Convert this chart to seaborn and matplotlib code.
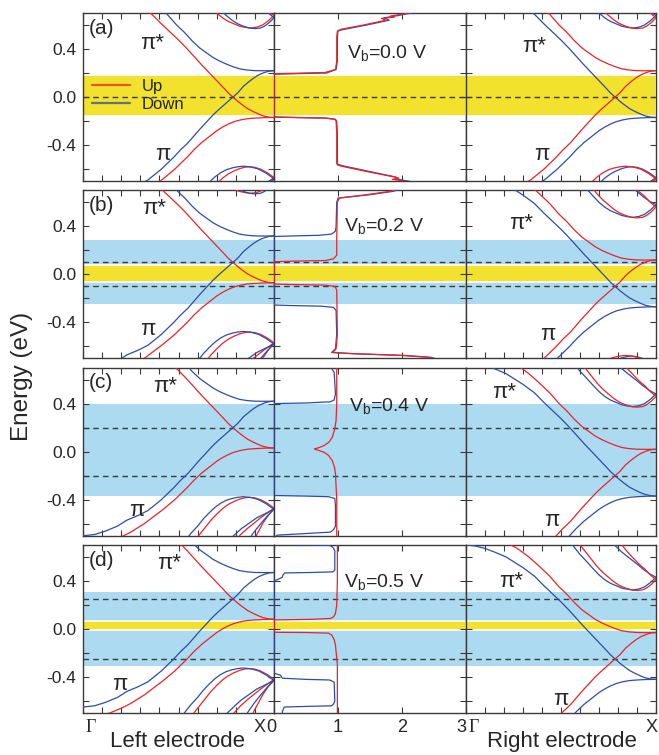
import matplotlib
matplotlib.use("Agg")
import matplotlib.pyplot as plt
from matplotlib.lines import Line2D
from matplotlib.ticker import MultipleLocator, FormatStrFormatter
import seaborn as sns

# ---------------- band structure of the left electrode at zero bias ----------------
# k runs from Gamma (0) to X (1); spin up = red, spin down = blue
K_PI_STAR_UP = [0.0, 0.05, 0.1, 0.15, 0.21, 0.26, 0.3, 0.36, 0.41, 0.45, 0.5, 0.54, 0.58, 0.62, 0.65, 0.68,
                0.71, 0.74, 0.76, 0.785, 0.81, 0.83, 0.86, 0.89, 0.92, 0.94, 0.97, 1.0]
E_PI_STAR_UP = [0.95, 0.94, 0.92, 0.89, 0.85, 0.8, 0.76, 0.69, 0.61, 0.55, 0.475, 0.41, 0.34, 0.27, 0.22, 0.17,
                0.12, 0.07, 0.035, 0.0, -0.035, -0.06, -0.095, -0.12, -0.142, -0.155, -0.166, -0.17]
K_PI_UP = [0.0, 0.07, 0.14, 0.2, 0.25, 0.32, 0.37, 0.42, 0.48, 0.545, 0.58, 0.62, 0.66, 0.70, 0.73, 0.76,
           0.79, 0.825, 0.86, 0.9, 0.95, 1.0]
E_PI_UP = [-0.98, -0.975, -0.95, -0.91, -0.87, -0.8, -0.74, -0.68, -0.6, -0.5, -0.44, -0.38, -0.33, -0.28,
           -0.25, -0.225, -0.205, -0.19, -0.18, -0.175, -0.171, -0.17]
K_PI_STAR_DN = [0.0, 0.05, 0.1, 0.15, 0.21, 0.27, 0.33, 0.38, 0.44, 0.49, 0.53, 0.57, 0.61, 0.645, 0.68,
                0.715, 0.75, 0.785, 0.82, 0.86, 0.9, 0.95, 1.0]
E_PI_STAR_DN = [1.05, 1.04, 1.02, 1.0, 0.97, 0.92, 0.85, 0.78, 0.69, 0.6, 0.54, 0.47, 0.41, 0.37, 0.33,
                0.3, 0.275, 0.253, 0.235, 0.225, 0.22, 0.219, 0.22]
K_PI_DN = [0.0, 0.06, 0.12, 0.18, 0.23, 0.29, 0.34, 0.41, 0.475, 0.51, 0.55, 0.58, 0.61, 0.645, 0.68, 0.71,
           0.735, 0.76, 0.785, 0.81, 0.84, 0.87, 0.895, 0.92, 0.95, 0.975, 1.0]
E_PI_DN = [-0.9, -0.89, -0.86, -0.82, -0.77, -0.73, -0.69, -0.6, -0.5, -0.44, -0.38, -0.325, -0.27, -0.21,
           -0.15, -0.105, -0.07, -0.035, 0.0, 0.035, 0.09, 0.13, 0.16, 0.185, 0.205, 0.216, 0.22]

# higher bands near X
K_UHUMP_UP = [0.56, 0.6, 0.63, 0.67, 0.7, 0.73, 0.76, 0.79, 0.82, 0.85, 0.88, 0.91, 0.94, 0.97, 1.0]
E_UHUMP_UP = [0.95, 0.87, 0.82, 0.75, 0.7, 0.66, 0.63, 0.61, 0.59, 0.58, 0.575, 0.582, 0.6, 0.635, 0.68]
K_UHUMP_DN = [0.6, 0.63, 0.66, 0.69, 0.72, 0.75, 0.78, 0.81, 0.84, 0.87, 0.9, 0.93, 0.95, 0.975, 1.0]
E_UHUMP_DN = [0.95, 0.89, 0.83, 0.77, 0.72, 0.68, 0.64, 0.61, 0.59, 0.575, 0.57, 0.575, 0.59, 0.62, 0.66]
K_ULINE_UP = [0.78, 0.82, 0.86, 0.9, 0.93, 0.965, 1.0]
E_ULINE_UP = [0.95, 0.89, 0.84, 0.79, 0.75, 0.71, 0.68]
K_ULINE_DN = [0.82, 0.85, 0.88, 0.91, 0.94, 0.97, 1.0]
E_ULINE_DN = [0.95, 0.89, 0.84, 0.79, 0.75, 0.7, 0.66]
K_LHUMP_UP = [0.58, 0.61, 0.64, 0.67, 0.7, 0.73, 0.76, 0.79, 0.82, 0.85, 0.87, 0.9, 0.93, 0.965, 1.0]
E_LHUMP_UP = [-0.95, -0.89, -0.83, -0.77, -0.72, -0.675, -0.64, -0.615, -0.595, -0.583, -0.58, -0.585, -0.6, -0.63, -0.67]
K_LHUMP_DN = [0.53, 0.565, 0.6, 0.63, 0.66, 0.69, 0.72, 0.75, 0.78, 0.81, 0.84, 0.88, 0.92, 0.96, 1.0]
E_LHUMP_DN = [-0.95, -0.88, -0.82, -0.76, -0.71, -0.665, -0.63, -0.605, -0.59, -0.58, -0.575, -0.582, -0.6, -0.635, -0.68]
K_LLINE1_UP = [0.79, 0.825, 0.86, 0.895, 0.93, 0.965, 1.0]
E_LLINE1_UP = [-0.95, -0.89, -0.84, -0.795, -0.75, -0.71, -0.67]
K_LLINE1_DN = [0.755, 0.795, 0.83, 0.87, 0.91, 0.955, 1.0]
E_LLINE1_DN = [-0.95, -0.89, -0.84, -0.795, -0.75, -0.715, -0.68]
K_LLINE2_UP = [0.89, 0.915, 0.94, 0.97, 1.0]
E_LLINE2_UP = [-0.95, -0.875, -0.8, -0.73, -0.67]
K_LLINE2_DN = [0.86, 0.895, 0.93, 0.965, 1.0]
E_LLINE2_DN = [-0.95, -0.87, -0.8, -0.735, -0.68]

# band shift of each electrode in panels (a)-(d), read from the edge states at X
LEFT_SHIFT = [0.0, 0.1, 0.2, 0.25]
RIGHT_SHIFT = [0.0, -0.1, -0.2, -0.25]

# ---------------- transmission, middle column ----------------
E_A_UP = [-0.72, -0.7, -0.685, -0.675, -0.665, -0.62, -0.575, -0.565, -0.55, -0.3, -0.2, -0.185, -0.175, -0.17,
          -0.167, 0.0, 0.195, 0.198, 0.205, 0.23, 0.3, 0.5, 0.55, 0.565, 0.6, 0.64, 0.655, 0.665, 0.675, 0.69, 0.72]
T_A_UP = [2.3, 2.05, 1.85, 1.95, 1.88, 1.45, 1.05, 0.99, 0.98, 0.98, 0.97, 0.95, 0.8, 0.3,
          0.0, 0.0, 0.0, 0.3, 0.8, 0.96, 0.98, 0.98, 0.99, 1.05, 1.4, 1.75, 1.68, 1.88, 1.82, 2.0, 2.3]
E_A_DN = [-0.72, -0.7, -0.68, -0.665, -0.62, -0.57, -0.56, -0.55, -0.3, -0.2, -0.185, -0.175, -0.17, -0.165,
          0.0, 0.19, 0.195, 0.2, 0.23, 0.3, 0.5, 0.55, 0.56, 0.6, 0.64, 0.66, 0.675, 0.69, 0.72]
T_A_DN = [2.35, 2.1, 1.9, 1.9, 1.5, 1.06, 1.0, 0.99, 0.99, 0.98, 0.96, 0.82, 0.35, 0.0,
          0.0, 0.0, 0.35, 0.82, 0.97, 0.99, 0.99, 1.0, 1.06, 1.45, 1.8, 1.72, 1.9, 2.05, 2.35]

E_B_UP = [0.72, 0.69, 0.66, 0.635, 0.6, 0.3, 0.16, 0.13, 0.115, 0.11, 0.105, -0.08, -0.085, -0.09, -0.1,
          -0.13, -0.5, -0.62, -0.65, -0.66, -0.675, -0.69, -0.72]
T_B_UP = [2.0, 1.8, 1.4, 1.02, 0.99, 0.98, 0.98, 0.93, 0.8, 0.3, 0.0, 0.0, 0.3, 0.8, 0.95,
          0.98, 0.99, 0.97, 0.92, 1.2, 2.0, 2.4, 2.6]
E_B_DN = [0.72, 0.69, 0.66, 0.635, 0.6, 0.4, 0.36, 0.335, 0.325, 0.32, 0.315, -0.255, -0.26, -0.265, -0.275,
          -0.3, -0.5, -0.62, -0.65, -0.66, -0.675, -0.69, -0.72]
T_B_DN = [2.05, 1.85, 1.45, 1.0, 0.98, 0.97, 0.96, 0.9, 0.7, 0.3, 0.0, 0.0, 0.3, 0.75, 0.93,
          0.97, 0.98, 0.96, 0.9, 1.25, 2.05, 2.45, 2.65]

E_C_UP = [0.72, 0.4, 0.26, 0.19, 0.12, 0.08, 0.05, 0.035, 0.022, 0.01, -0.005, -0.03, -0.075, -0.12, -0.18, -0.4, -0.72]
T_C_UP = [0.98, 0.98, 0.97, 0.95, 0.91, 0.86, 0.78, 0.71, 0.63, 0.7, 0.78, 0.85, 0.91, 0.94, 0.96, 0.98, 0.98]
E_C_DN = [0.72, 0.70, 0.66, 0.48, 0.43, 0.415, 0.405, 0.40, -0.365, -0.37, -0.375, -0.39, -0.45, -0.62, -0.65,
          -0.67, -0.68, -0.695, -0.72]
T_C_DN = [0.85, 0.89, 0.94, 0.96, 0.94, 0.88, 0.5, 0.0, 0.0, 0.5, 0.85, 0.95, 0.96, 0.96, 0.93,
          0.88, 0.55, 0.05, 0.0]

E_D_UP = [0.72, 0.4, 0.2, 0.128, 0.1, 0.087, 0.08, 0.075, -0.028, -0.03, -0.035, -0.05, -0.09, -0.134, -0.3, -0.72]
T_D_UP = [0.99, 0.99, 0.98, 0.96, 0.93, 0.88, 0.6, 0.0, 0.0, 0.5, 0.85, 0.9, 0.94, 0.96, 0.99, 0.99]
E_D_DN = [0.72, 0.705, 0.70, 0.695, 0.68, 0.65, 0.49, 0.475, 0.47, 0.466, 0.45, 0.43, 0.41, 0.40,
          -0.368, -0.385, -0.41, -0.42, -0.425, -0.443, -0.6, -0.625, -0.64, -0.645, -0.65, -0.69, -0.72]
T_D_DN = [0.1, 0.1, 0.5, 0.87, 0.92, 0.95, 0.95, 0.92, 0.6, 0.17, 0.14, 0.13, 0.05, 0.0,
          0.0, 0.1, 0.13, 0.5, 0.87, 0.94, 0.95, 0.93, 0.9, 0.5, 0.16, 0.13, 0.13]

# ---------------- bias windows and labels ----------------
PANEL_TAGS = ["(a)", "(b)", "(c)", "(d)"]
BIAS_TEXT = ["0.0", "0.2", "0.4", "0.5"]
SKY_BAND = [None, (-0.25, 0.285), (-0.37, 0.395), (-0.31, 0.31)]
YELLOW_BAND = [(-0.16, 0.186), (-0.062, 0.08), None, (-0.01, 0.068)]
DASH_LEVELS = [[0.0], [-0.1, 0.1], [-0.2, 0.2], [-0.25, 0.25]]

BANDS_UP = [(K_PI_STAR_UP, E_PI_STAR_UP), (K_PI_UP, E_PI_UP), (K_UHUMP_UP, E_UHUMP_UP),
            (K_ULINE_UP, E_ULINE_UP), (K_LHUMP_UP, E_LHUMP_UP), (K_LLINE1_UP, E_LLINE1_UP),
            (K_LLINE2_UP, E_LLINE2_UP)]
BANDS_DN = [(K_PI_STAR_DN, E_PI_STAR_DN), (K_PI_DN, E_PI_DN), (K_UHUMP_DN, E_UHUMP_DN),
            (K_ULINE_DN, E_ULINE_DN), (K_LHUMP_DN, E_LHUMP_DN), (K_LLINE1_DN, E_LLINE1_DN),
            (K_LLINE2_DN, E_LLINE2_DN)]
TRANS_UP = [(T_A_UP, E_A_UP), (T_B_UP, E_B_UP), (T_C_UP, E_C_UP), (T_D_UP, E_D_UP)]
TRANS_DN = [(T_A_DN, E_A_DN), (T_B_DN, E_B_DN), (T_C_DN, E_C_DN), (T_D_DN, E_D_DN)]

PISTAR_POS_L = [(0.36, 0.82), (0.37, 0.89), (0.43, 0.89), (0.45, 0.89)]
PI_POS_L = [(0.42, 0.16), (0.34, 0.17), (0.28, 0.15), (0.19, 0.17)]
PISTAR_POS_R = [(0.36, 0.80), (0.29, 0.80), (0.20, 0.85), (0.24, 0.78)]
PI_POS_R = [(0.40, 0.16), (0.43, 0.14), (0.45, 0.09), (0.50, 0.08)]
BIAS_POS = [(0.38, 0.76), (0.365, 0.79), (0.39, 0.77), (0.365, 0.78)]

RED = "#e8242b"
BLUE = "#2f4da2"
YELLOW = "#f2e12d"
SKY = "#acdaf0"
EDGE = "#3a3a3a"

sns.set_style("ticks")
plt.rcParams["font.family"] = ["Liberation Sans", "DejaVu Sans"]
plt.rcParams["axes.unicode_minus"] = False
plt.rcParams["mathtext.fontset"] = "custom"
plt.rcParams["mathtext.rm"] = "Liberation Sans"
plt.rcParams["mathtext.it"] = "Liberation Sans:italic"


def draw_curve(ax, x, y, color):
    sns.lineplot(x=x, y=y, ax=ax, color=color, lw=0.9, sort=False, estimator=None, zorder=3)


fig, axes = plt.subplots(4, 3, figsize=(6.59, 7.55), dpi=100,
                         gridspec_kw=dict(width_ratios=[191, 192, 190], hspace=0.054, wspace=0,
                                          left=0.126, right=0.9954, top=0.9828, bottom=0.0556))

for r in range(4):
    ax_l, ax_m, ax_r = axes[r]
    for c, ax in enumerate(axes[r]):
        if SKY_BAND[r]:
            ax.axhspan(*SKY_BAND[r], color=SKY, lw=0, zorder=0)
        if YELLOW_BAND[r]:
            ax.axhspan(*YELLOW_BAND[r], facecolor=YELLOW, edgecolor="white", lw=1.2, zorder=0.5)
        for lev in DASH_LEVELS[r]:
            ax.axhline(lev, color=EDGE, lw=1.0, ls=(0, (4, 3)), zorder=1)

        ax.set_ylim(-0.7, 0.7)
        ax.yaxis.set_major_locator(MultipleLocator(0.4))
        ax.yaxis.set_minor_locator(MultipleLocator(0.2))
        ax.yaxis.set_major_formatter(FormatStrFormatter("%.1f"))
        if c == 1:
            ax.set_xlim(0, 3)
            ax.xaxis.set_major_locator(MultipleLocator(1))
        else:
            ax.set_xlim(0, 1)
            ax.xaxis.set_major_locator(MultipleLocator(1))
            ax.xaxis.set_minor_locator(MultipleLocator(0.1))
        ax.tick_params(which="both", direction="in", top=True, right=True, length=4.5, width=0.8,
                       color=EDGE, labelbottom=False, labelleft=(c == 0), labelsize=12.5, pad=5)
        for sp in ax.spines.values():
            sp.set_color(EDGE)
            sp.set_linewidth(1.0)
        ax.set_xlabel("")
        ax.set_ylabel("")

    # bands: the right electrode has the opposite magnetisation, so the colours swap
    for k, e in BANDS_UP:
        draw_curve(ax_l, k, [v + LEFT_SHIFT[r] for v in e], RED)
        draw_curve(ax_r, k, [v + RIGHT_SHIFT[r] for v in e], BLUE)
    for k, e in BANDS_DN:
        draw_curve(ax_l, k, [v + LEFT_SHIFT[r] for v in e], BLUE)
        draw_curve(ax_r, k, [v + RIGHT_SHIFT[r] for v in e], RED)

    draw_curve(ax_m, TRANS_DN[r][0], TRANS_DN[r][1], BLUE)
    draw_curve(ax_m, TRANS_UP[r][0], TRANS_UP[r][1], RED)

    ax_l.text(0.03, 0.965, PANEL_TAGS[r], transform=ax_l.transAxes, fontsize=15, ha="left", va="top")
    ax_l.text(*PISTAR_POS_L[r], "π*", transform=ax_l.transAxes, fontsize=16, ha="center", va="center")
    ax_l.text(*PI_POS_L[r], "π", transform=ax_l.transAxes, fontsize=16, ha="center", va="center")
    ax_r.text(*PISTAR_POS_R[r], "π*", transform=ax_r.transAxes, fontsize=16, ha="center", va="center")
    ax_r.text(*PI_POS_R[r], "π", transform=ax_r.transAxes, fontsize=16, ha="center", va="center")
    ax_m.text(*BIAS_POS[r], r"V$_{\mathrm{b}}$=" + BIAS_TEXT[r] + " V", transform=ax_m.transAxes,
              fontsize=14, ha="left", va="center")

# legend in panel (a)
handles = [Line2D([], [], color=RED, lw=1.6, alpha=0.75), Line2D([], [], color=BLUE, lw=1.6, alpha=0.75)]
axes[0, 0].legend(handles, ["Up", "Down"], loc="upper left", bbox_to_anchor=(0.045, 0.61), frameon=False,
                  fontsize=12, handlelength=2.3, handletextpad=0.7, labelspacing=0.2, borderpad=0,
                  borderaxespad=0)

# bottom tick labels written by hand so that X0 and 3Γ sit as in the original
ax_l, ax_m, ax_r = axes[3]
tick_kw = dict(xycoords=("data", "axes fraction"), textcoords="offset points", va="top", fontsize=13)
ax_l.annotate("Γ", (0, 0), xytext=(1.5, -4), ha="left", family=["Liberation Serif"], **tick_kw)
ax_l.annotate("X", (1, 0), xytext=(-6, -4), ha="right", **tick_kw)
for t, lab, ha, dx in [(0, "0", "center", -2), (1, "1", "center", 0), (2, "2", "center", 0), (3, "3", "right", 0)]:
    ax_m.annotate(lab, (t, 0), xytext=(dx, -4), ha=ha, **tick_kw)
ax_r.annotate("Γ", (0, 0), xytext=(1.5, -4), ha="left", family=["Liberation Serif"], **tick_kw)
ax_r.annotate("X", (1, 0), xytext=(1, -4), ha="right", **tick_kw)

fig.text(0.27, 0.0106, "Left electrode", ha="center", va="baseline", fontsize=16)
fig.text(0.852, 0.0106, "Right electrode", ha="center", va="baseline", fontsize=16)
fig.text(0.033, 0.502, "Energy (eV)", rotation=90, ha="center", va="center", fontsize=17.5)

fig.savefig("out.png", dpi=100)
plt.close(fig)
